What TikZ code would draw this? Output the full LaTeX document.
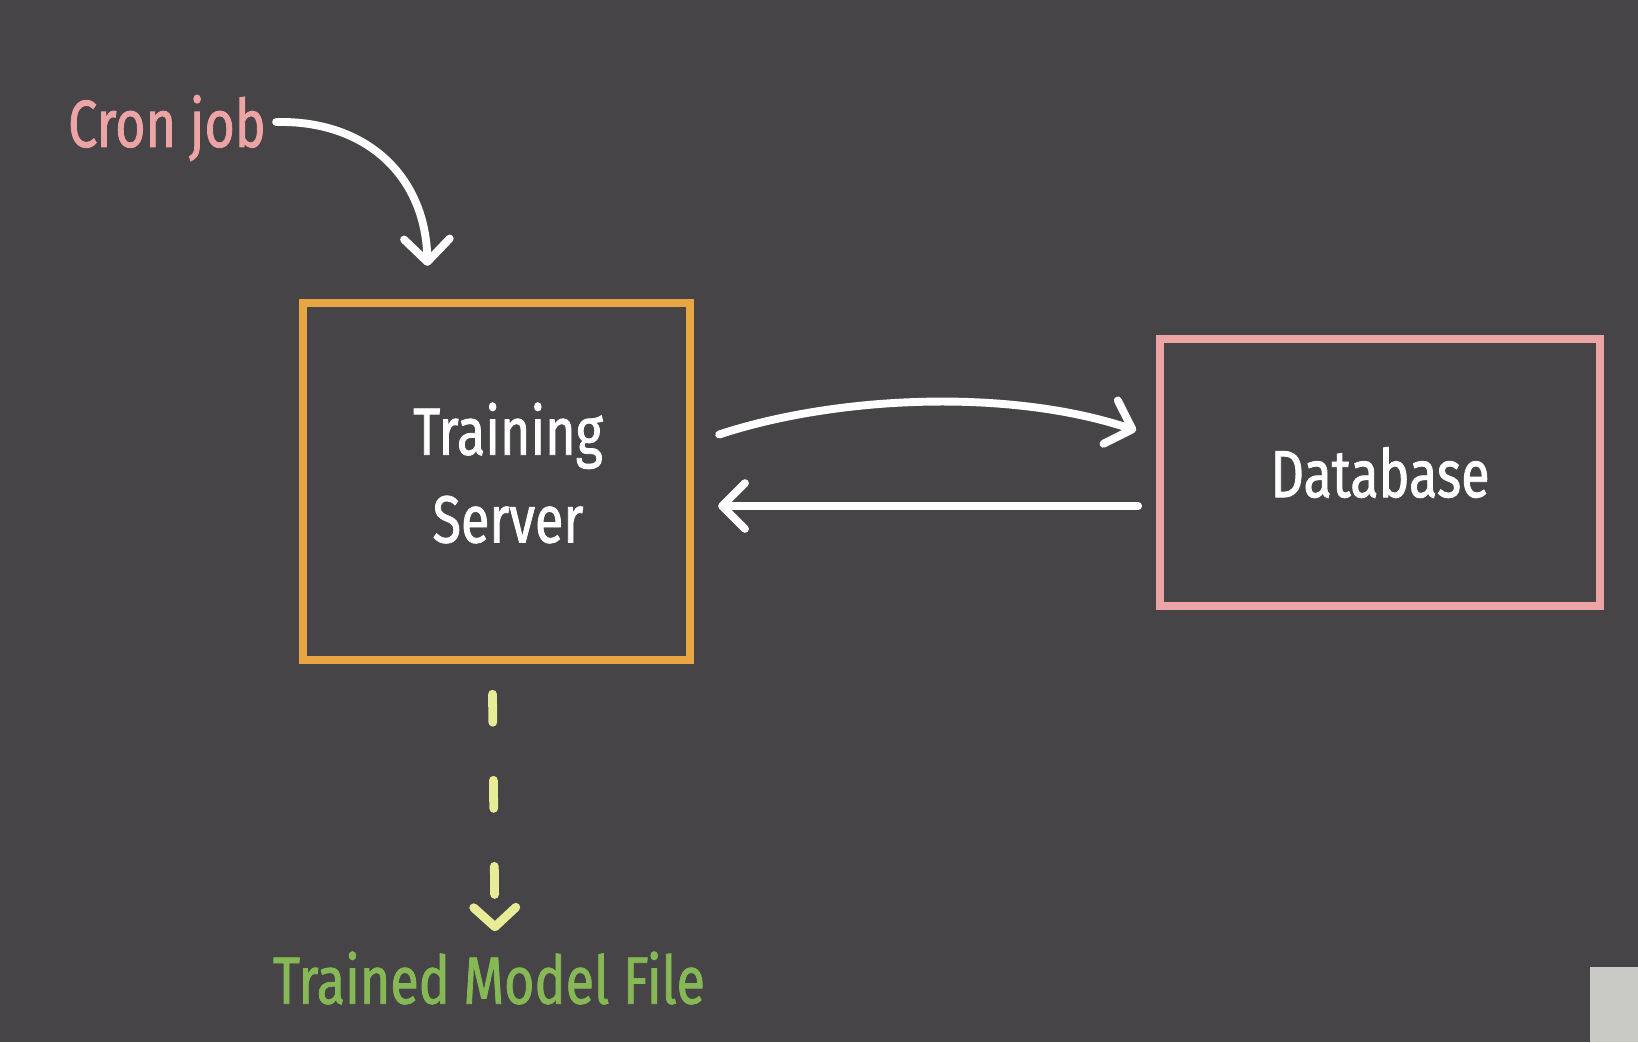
\documentclass[tikz,border=0pt]{standalone}
\usepackage{fontspec}
\setmainfont{Fira Sans}
\newfontfamily\hand[FakeStretch=0.78,FakeBold=1.2]{Fira Sans}
\usetikzlibrary{arrows.meta,calc}
\definecolor{bgc}{RGB}{70,68,71}
\definecolor{orangeb}{RGB}{232,166,66}
\definecolor{pinkb}{RGB}{236,164,164}
\definecolor{crontxt}{RGB}{236,164,164}
\definecolor{greentxt}{RGB}{134,185,85}
\definecolor{dashy}{RGB}{232,236,150}
\definecolor{corner}{RGB}{201,201,197}
\tikzset{
  box/.style={draw, line width=4.5pt, inner sep=0pt, align=center, text=white, font=\hand\fontsize{38}{46}\selectfont},
  lbl/.style={inner sep=0pt, font=\hand\fontsize{38}{46}\selectfont},
  wire/.style={draw=white, line width=4.5pt, line cap=round, line join=round,
    -{Straight Barb[length=13pt, width=26pt, line width=4.5pt, round]}},
  dashw/.style={draw=dashy, line width=5pt, line cap=round,
    dash pattern=on 16pt off 33pt,
    -{Straight Barb[length=11pt, width=24pt, line width=5pt, round]}}
}
\begin{document}
\begin{tikzpicture}[x=0.02cm, y=-0.02cm]
\fill[bgc] (0,0) rectangle (1638,1042);
\useasboundingbox (0,0) rectangle (1638,1042);
\fill[corner] (1590,967) rectangle (1638,1042);

\node[box, draw=orangeb, minimum width=7.75cm, minimum height=7.15cm] (ts) at (496.5,481.5) {};
\node[text=white, inner sep=0pt, align=center, font=\hand\fontsize{38}{50}\selectfont] (tstext) at (508,473) {Training\\Server};
\node[box, draw=pinkb, minimum width=8.8cm, minimum height=5.35cm] (db) at (1380,472.5) {Database};
\node[lbl, text=crontxt, anchor=center] (cron) at (167,128) {Cron job};
\node[lbl, text=greentxt, anchor=center] (model) at (489,978) {Trained Model File};

\coordinate (cronend) at ($(ts.north)+(-69,-33)$);
\draw[wire] ($(cron.east)+(10,-6)$) .. controls ($(cron.east)+(100,-8)$) and ($(cronend)+(-2,-90)$) .. (cronend);

\draw[wire] ($(ts.east)+(25,-47)$) .. controls ($(ts.east)+(140,-85)$) and ($(db.west)+(-150,-85)$) .. ($(db.west)+(-20,-42)$);
\draw[wire] ($(db.west)+(-18,33.5)$) -- ($(ts.east)+(24,24.5)$);

\coordinate (mtip) at ($(model.north)+(6,-20)$);
\draw[dashw] ($(ts.south)+(-4,30)$) -- (mtip);
\end{tikzpicture}
\end{document}
